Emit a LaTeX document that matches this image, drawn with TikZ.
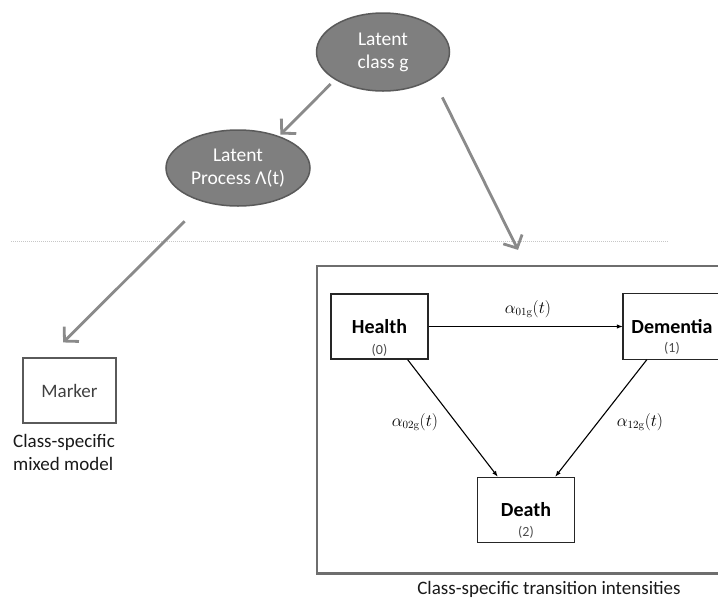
\documentclass[tikz,border=0pt]{standalone}
\usepackage[no-math]{fontspec}
\setmainfont{Carlito}
\usetikzlibrary{shapes.geometric,arrows.meta}

\definecolor{latentgray}{HTML}{7F7F7F}
\definecolor{latentedge}{HTML}{5A5A5A}
\definecolor{linkgray}{HTML}{8A8A8A}
\definecolor{framegray}{HTML}{6E6E6E}

\tikzset{
    latent/.style={ellipse, draw=latentedge, line width=1.5pt, fill=latentgray,
        text=white, align=center, inner sep=0pt,
        font=\fontsize{19.5}{23}\selectfont},
    link/.style={draw=linkgray, line width=2.8pt,
        -{Straight Barb[length=10pt,width=21pt]}},
    statebox/.style={draw=black!85, line width=1.3pt, minimum width=97pt,
        minimum height=65pt, inner sep=0pt,
        font=\fontsize{20}{24}\selectfont\bfseries},
    statenum/.style={text=black!70, inner sep=0pt, font=\fontsize{14}{16}\selectfont},
    trans/.style={line width=1.1pt, -{Latex[length=6pt,width=4.5pt]}},
    rate/.style={font=\fontsize{16}{19}\selectfont},
    caption/.style={inner sep=0pt, text=black!90, font=\fontsize{19}{23}\selectfont}
}

\begin{document}
\begin{tikzpicture}[x=1pt, y=-1pt]
                    \useasboundingbox (0,0) rectangle (718,598);

                    % 潜在変数
                    \node[latent, minimum width=133pt, minimum height=78pt] (classg) at (383,52) {Latent\\class g};
                    \node[latent, minimum width=144pt, minimum height=76pt] (process) at (238,168) {Latent\\Process Λ(t)};

                    % 区切り線
                    \draw[draw=black!22, line width=0.9pt, dash pattern=on 1pt off 1pt] (11,241) -- (669,241);

                    % マーカー
                    \node[draw=latentedge, line width=1.5pt, minimum width=93pt, minimum height=65pt,
                        text=black!75, font=\fontsize{19}{23}\selectfont] (marker) at (69.5,390.5) {Marker};
                    \node[caption, anchor=north west, align=left] (mixcap) at (13,434) {Class-specific\\mixed model};

                    % 多状態モデルの枠 (右端は切れている)
                    \node[minimum width=410pt, minimum height=307pt, anchor=north west] (frame) at (317,266) {};
                    \draw[framegray, line width=2.4pt] (frame.north east) -- (frame.north west)
                        -- (frame.south west) -- (frame.south east);
                    \node[caption, anchor=base] (transcap) at (549,594) {Class-specific transition intensities};

                    % 状態
                    \node[statebox] (health) at (379.5,326.5) {Health};
                    \node[statebox, draw=none] (dementia) at (672,326.5) {Dementia};
                    \draw[black!85, line width=1.3pt] ([xshift=4pt]dementia.north east) -- (dementia.north west)
                        -- (dementia.south west) -- ([xshift=4pt]dementia.south east);
                    \node[statebox] (death) at (526,510) {Death};
                    \node[statenum] (h0) at ([yshift=-24pt]health.center) {(0)};
                    \node[statenum] (d1) at ([yshift=-22pt]dementia.center) {(1)};
                    \node[statenum] (d2) at ([yshift=-22pt]death.center) {(2)};

                    % 遷移
                    \draw[trans] (health.east) -- (dementia.west);
                    \draw[trans] ([xshift=-21pt]health.south east) -- ([xshift=21pt]death.north west);
                    \draw[trans] ([xshift=24pt]dementia.south west) -- ([xshift=-20pt]death.north east);
                    \node[rate] (a01) at (528,309) {$\alpha_{01\mathrm{g}}(t)$};
                    \node[rate] (a02) at (415,422) {$\alpha_{02\mathrm{g}}(t)$};
                    \node[rate] (a12) at (640,422) {$\alpha_{12\mathrm{g}}(t)$};

                    % 灰色の矢印
                    \draw[link, shorten <=6pt, shorten >=2pt] (classg.210) -- (process.38);
                    \draw[link, shorten <=21pt, shorten >=18pt] (classg.-28) -- ([xshift=209pt]frame.north west);
                    \draw[link, shorten <=27pt, shorten >=21pt] (process.225) -- ([xshift=26pt]marker.north west);
                \end{tikzpicture}
\end{document}
